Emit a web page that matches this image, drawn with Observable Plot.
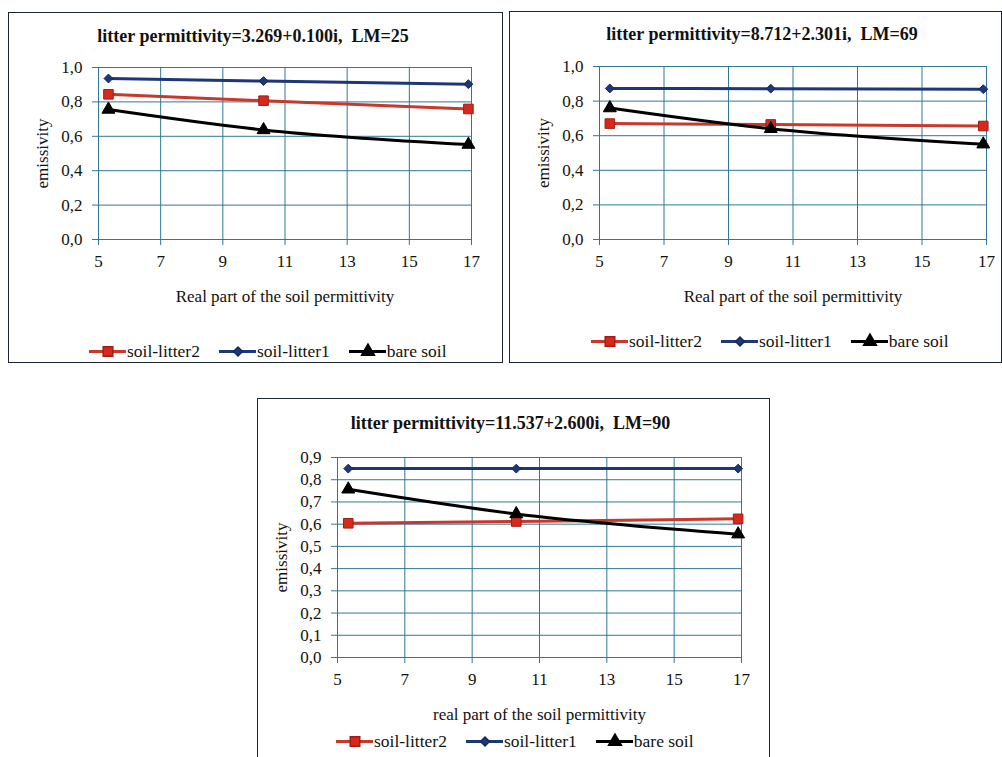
<!DOCTYPE html>
<html>
<head>
<meta charset="utf-8">
<script src="https://cdn.jsdelivr.net/npm/d3@7"></script>
<script src="https://cdn.jsdelivr.net/npm/@observablehq/plot@0.6"></script>
<style>
  html, body { margin: 0; padding: 0; background: #ffffff; }
  body { width: 1002px; height: 757px; position: relative; overflow: hidden;
         font-family: "Liberation Serif", "Times New Roman", serif; }
  .panel { position: absolute; box-sizing: border-box; border: 1.5px solid #1c2633; background: #fff; overflow: hidden; }
  .panel svg.plot { position: absolute; left: 0; top: 0; }
  .legend { position: absolute; display: flex; align-items: center; font-size: 17.5px; color: #111; white-space: nowrap; }
  .legend .item { display: flex; align-items: center; margin-right: 19px; }
  .legend .item svg { display: block; margin-right: 1px; }
</style>
</head>
<body>
<script>
// ---------- data ----------
const seriesNames = ["soil-litter2", "soil-litter1", "bare soil"];
const titles = [
  "litter permittivity=3.269+0.100i,  LM=25",
  "litter permittivity=8.712+2.301i,  LM=69",
  "litter permittivity=11.537+2.600i,  LM=90"
];
const xLabels = ["Real part of the soil permittivity", "Real part of the soil permittivity", "real part of the soil permittivity"];
const yLabel = "emissivity";
const xValues = [5.32, 10.31, 16.9];
const xTicks = [5, 7, 9, 11, 13, 15, 17];
const yTicksA = [0, 0.2, 0.4, 0.6, 0.8, 1.0];
const yTicksB = [0, 0.1, 0.2, 0.3, 0.4, 0.5, 0.6, 0.7, 0.8, 0.9];

// panel 1 (LM=25)
const soilLitter2_LM25 = [0.844, 0.807, 0.759];
const soilLitter1_LM25 = [0.936, 0.921, 0.903];
const bareSoil_LM25    = [0.756, 0.637, 0.552];
// panel 2 (LM=69)
const soilLitter2_LM69 = [0.670, 0.665, 0.656];
const soilLitter1_LM69 = [0.873, 0.872, 0.869];
const bareSoil_LM69    = [0.760, 0.640, 0.551];
// panel 3 (LM=90)
const soilLitter2_LM90 = [0.604, 0.612, 0.624];
const soilLitter1_LM90 = [0.850, 0.850, 0.850];
const bareSoil_LM90    = [0.757, 0.646, 0.555];

// ---------- styles ----------
const colors = { "soil-litter2": "#c8392b", "soil-litter1": "#1d3779", "bare soil": "#000000" };
const markFill = { "soil-litter2": "#d8281c", "soil-litter1": "#1d3779", "bare soil": "#000000" };
const markStroke = { "soil-litter2": "#9e1e14", "soil-litter1": "#14295c", "bare soil": "#000000" };
const symbols = { "soil-litter2": "square", "soil-litter1": "diamond2", "bare soil": "triangle" };
const radii = { "soil-litter2": 5.4, "soil-litter1": 4, "bare soil": 4.8 };
const gridColor = "#2f7896";
const serif = "'Liberation Serif', 'Times New Roman', serif";

const panels = [
  { left: 8, top: 12, w: 495, h: 351, ml: 89, mr: 30, mt: 54, plotH: 172, yMax: 1.0, yTicks: yTicksA,
    series: [soilLitter2_LM25, soilLitter1_LM25, bareSoil_LM25], titleY: 23, titleDx: -32, legendLeft: 80, legendY: 338 },
  { left: 509, top: 11, w: 493, h: 352, ml: 89, mr: 14, mt: 54, plotH: 173, yMax: 1.0, yTicks: yTicksA,
    series: [soilLitter2_LM69, soilLitter1_LM69, bareSoil_LM69], titleY: 22, titleDx: -31, legendLeft: 81, legendY: 329 },
  { left: 257, top: 398, w: 513, h: 370, ml: 79, mr: 27, mt: 58, plotH: 200, yMax: 0.9, yTicks: yTicksB,
    series: [soilLitter2_LM90, soilLitter1_LM90, bareSoil_LM90], titleY: 24, titleDx: -29, legendLeft: 78, legendY: 342 }
];

const fmt = d => d.toFixed(1).replace(".", ",");

panels.forEach((p, i) => {
  const div = document.createElement("div");
  div.className = "panel";
  Object.assign(div.style, { left: p.left + "px", top: p.top + "px", width: p.w + "px", height: p.h + "px" });
  document.body.appendChild(div);

  const rows = [];
  p.series.forEach((vals, si) => {
    vals.forEach((v, k) => rows.push({ series: seriesNames[si], x: xValues[k], y: v }));
  });

  const svgH = p.mt + p.plotH + 90;
  const marks = [
    Plot.gridX(xTicks, { stroke: gridColor, strokeOpacity: 1, strokeWidth: 1 }),
    Plot.gridY(p.yTicks, { stroke: gridColor, strokeOpacity: 1, strokeWidth: 1 }),
    Plot.axisX(xTicks, { tickSize: 6, tickPadding: 9, stroke: gridColor, strokeOpacity: 1, fill: "#111", fontSize: 17, fontFamily: serif, label: null, tickFormat: d => String(d) }),
    Plot.axisY(p.yTicks, { tickSize: 6, tickPadding: 10, stroke: gridColor, strokeOpacity: 1, fill: "#111", fontSize: 17, fontFamily: serif, label: null, tickFormat: fmt })
  ];
  seriesNames.forEach(name => {
    const data = rows.filter(r => r.series === name);
    marks.push(Plot.line(data, { x: "x", y: "y", stroke: colors[name], strokeWidth: 3, curve: "monotone-x" }));
    marks.push(Plot.dot(data, { x: "x", y: "y", symbol: symbols[name], r: radii[name], fill: markFill[name], stroke: markStroke[name], strokeWidth: 1 }));
  });
  marks.push(Plot.text([titles[i]], { text: d => d, frameAnchor: "top", dx: p.titleDx, dy: p.titleY - p.mt, lineAnchor: "middle", textAnchor: "middle", fontWeight: "bold", fontSize: 18, fontFamily: serif, fill: "#111" }));
  marks.push(Plot.text([xLabels[i]], { text: d => d, frameAnchor: "bottom", dy: 57, lineAnchor: "middle", textAnchor: "middle", fontSize: 17, fontFamily: serif, fill: "#111" }));
  marks.push(Plot.text([yLabel], { text: d => d, frameAnchor: "left", dx: -56, rotate: -90, lineAnchor: "middle", textAnchor: "middle", fontSize: 17, fontFamily: serif, fill: "#111" }));

  const chart = Plot.plot({
    width: p.w - 3,
    height: svgH,
    marginLeft: p.ml,
    marginRight: p.mr,
    marginTop: p.mt,
    marginBottom: svgH - p.mt - p.plotH,
    style: { fontFamily: serif, fontSize: "17px", background: "transparent", overflow: "visible" },
    x: { domain: [5, 17] },
    y: { domain: [0, p.yMax] },
    marks
  });
  chart.classList.add("plot");
  div.appendChild(chart);

  // legend
  const leg = document.createElement("div");
  leg.className = "legend";
  Object.assign(leg.style, { left: p.legendLeft + "px", top: (p.legendY - 11) + "px", height: "22px" });
  seriesNames.forEach(name => {
    const item = document.createElement("div");
    item.className = "item";
    const sw = Plot.plot({
      width: 37, height: 16, margin: 0,
      x: { domain: [0, 2], axis: null }, y: { domain: [0, 1], axis: null },
      style: { background: "transparent", overflow: "visible" },
      marks: [
        Plot.ruleY([0.5], { x1: 0, x2: 2, stroke: colors[name], strokeWidth: 3 }),
        Plot.dot([{ x: 1, y: 0.5 }], { x: "x", y: "y", symbol: symbols[name], r: radii[name], fill: markFill[name], stroke: markStroke[name] })
      ]
    });
    item.appendChild(sw);
    const t = document.createElement("span");
    t.textContent = name;
    item.appendChild(t);
    leg.appendChild(item);
  });
  div.appendChild(leg);
});
</script>
</body>
</html>
